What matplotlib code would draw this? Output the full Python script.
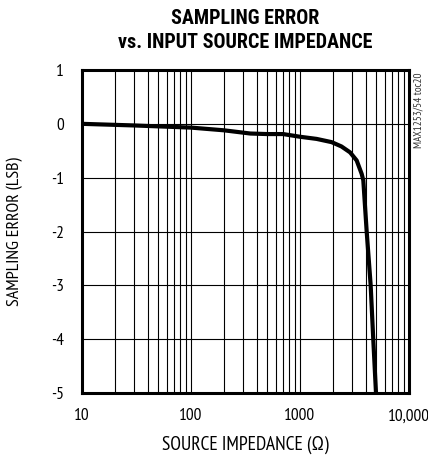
import matplotlib
matplotlib.use('Agg')
import matplotlib.pyplot as plt
from matplotlib.ticker import FixedLocator, NullFormatter

plt.rcParams['font.family'] = ['PT Sans Narrow', 'DejaVu Sans']
title_font = ['Roboto Condensed', 'DejaVu Sans']

# curve
impedance = [10, 30, 100, 200, 350, 500, 700, 1000, 1420, 1950, 2400, 2880,
             3310, 3680, 3810, 4090, 4450, 4700, 4980]
error_lsb = [0.0, -0.03, -0.07, -0.12, -0.18, -0.19, -0.19, -0.24, -0.28, -0.34,
             -0.42, -0.53, -0.68, -0.93, -1.05, -2.0, -3.0, -4.0, -5.0]

xticks = [10, 100, 1000, 10000]
xticklabels = ['10', '100', '1000', '10,000']
yticks = [1, 0, -1, -2, -3, -4, -5]

fig = plt.figure(figsize=(4.28, 4.58), dpi=100)
ax = fig.add_axes([82/428, 1 - 393/458, 327/428, 323/458])

ax.plot(impedance, error_lsb, 'k-', lw=3, solid_joinstyle='round')
ax.set_xscale('log')
ax.set_xlim(10, 10000)
ax.set_ylim(-5, 1)

ax.xaxis.set_major_locator(FixedLocator(xticks))
ax.set_xticklabels(xticklabels)
minors = [m * 10**d for d in range(1, 4) for m in range(2, 10)]
ax.xaxis.set_minor_locator(FixedLocator(minors))
ax.xaxis.set_minor_formatter(NullFormatter())
ax.set_yticks(yticks)
ax.set_yticklabels([str(v) for v in yticks])

ax.grid(True, which='both', axis='x', color='k', lw=0.8)
ax.grid(True, which='major', axis='y', color='k', lw=0.8)
ax.tick_params(which='both', length=0, labelsize=12.5)
ax.tick_params(axis='x', pad=11)
ax.tick_params(axis='y', pad=13)
for s in ax.spines.values():
    s.set_linewidth(2.2)

ax.set_xlabel('SOURCE IMPEDANCE (\u03a9)', fontsize=14, labelpad=8)
ax.set_ylabel('SAMPLING ERROR (LSB)', fontsize=13, labelpad=20)

fig.text(245/428, 1 - 18/458, 'SAMPLING ERROR', ha='center', va='center',
         fontsize=14.5, fontweight='black', family=title_font)
fig.text(245/428, 1 - 43/458, 'vs. INPUT SOURCE IMPEDANCE', ha='center', va='center',
         fontsize=14.5, fontweight='black', family=title_font)
fig.text(419/428, 1 - 72/458, 'MAX1253/54 toc20', rotation=90, ha='center', va='top',
         fontsize=8, color='#333333')

fig.savefig('out.png', dpi=100)
